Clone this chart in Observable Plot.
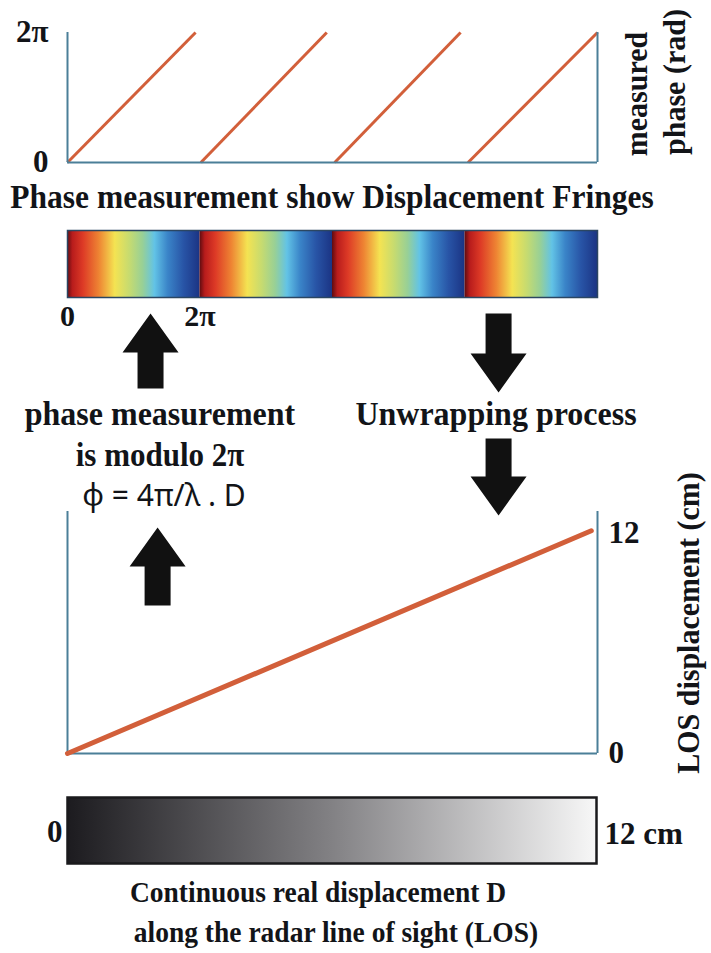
<!DOCTYPE html>
<html>
<head>
<meta charset="utf-8">
<script src="https://cdn.jsdelivr.net/npm/d3@7"></script>
<script src="https://cdn.jsdelivr.net/npm/@observablehq/plot@0.6"></script>
<style>
  html, body { margin: 0; padding: 0; background: #fff; }
  #root { position: relative; width: 711px; height: 953px; overflow: hidden; background: #fff; }
  .lbl { position: absolute; white-space: nowrap; line-height: 1; color: #121418;
         font-family: "Liberation Serif", "Times New Roman", serif; font-weight: bold; }
</style>
</head>
<body>
<svg width="0" height="0" style="position:absolute">
  <defs>
    <linearGradient id="jet" x1="0" x2="1" y1="0" y2="0">
      <stop offset="0" stop-color="#5e0c10"/>
      <stop offset="0.04" stop-color="#b81c1c"/>
      <stop offset="0.12" stop-color="#dd3a26"/>
      <stop offset="0.24" stop-color="#ee8433"/>
      <stop offset="0.36" stop-color="#f4e352"/>
      <stop offset="0.47" stop-color="#c6db70"/>
      <stop offset="0.57" stop-color="#98d096"/>
      <stop offset="0.66" stop-color="#62c3e6"/>
      <stop offset="0.76" stop-color="#3a84c8"/>
      <stop offset="0.88" stop-color="#2854a6"/>
      <stop offset="1" stop-color="#1b3484"/>
    </linearGradient>
    <linearGradient id="gray" x1="0" x2="1" y1="0" y2="0">
      <stop offset="0" stop-color="#1c1b1f"/>
      <stop offset="0.5" stop-color="#828184"/>
      <stop offset="1" stop-color="#f7f7f7"/>
    </linearGradient>
  </defs>
</svg>
<div id="root"></div>
<script>
// ---------------- data ----------------
// wrapped phase fringes (x in cm of LOS displacement)
const fringeStart = [0, 3.02, 6.05, 9.07];
const fringeEnd   = [2.9, 5.87, 8.9, 12];
const phaseRange  = [0, 2 * Math.PI];
const phaseTicks  = [0, 2 * Math.PI];
const phaseTickLabels = ["0", "2π"];
// colour-coded fringes (one colour cycle per 2π)
const cycleStart = [0, 3, 6, 9];
const cycleEnd   = [3, 6, 9, 12];
const cycleTicks = [0, 3];
const cycleTickLabels = ["0", "2π"];
// unwrapped LOS displacement
const losX = [0, 11.86];
const losY = [0, 12.15];
const losTicks = [0, 12];
const displacementRange = [0, 12];
const grayLabels = ["0", "12 cm"];

// ---------------- styles ----------------
const axisColor = "#4b7f98";
const lineColor = "#d25f3a";
const W = 711, ML = 67, MR = 114;
const root = document.getElementById("root");
const fontStyle = {fontFamily: "'Liberation Serif', serif", fontWeight: "bold", fontSize: "30px", color: "#121418", background: "transparent", overflow: "visible"};

function place(el, top) {
  el.style.position = "absolute";
  el.style.top = top + "px";
  el.style.left = "0px";
  root.appendChild(el);
}
function label(text, cx, cy, size, extra = {}) {
  const d = document.createElement("div");
  d.className = "lbl";
  d.textContent = text;
  d.style.left = cx + "px";
  d.style.top = cy + "px";
  d.style.fontSize = size + "px";
  d.style.transform = "translate(-50%,-50%)" + (extra.rotate ? " rotate(-90deg) scaleY(1.05)" : " scaleY(1.06)");
  if (extra.font) d.style.fontFamily = extra.font;
  if (extra.weight) d.style.fontWeight = extra.weight;
  root.appendChild(d);
}

// ---------------- top: wrapped phase ----------------
const fringes = fringeStart.map((s, i) => ({start: s, end: fringeEnd[i]}));
place(Plot.plot({
  width: W, height: 180, marginTop: 32, marginBottom: 18, marginLeft: ML, marginRight: MR,
  x: {domain: displacementRange, axis: null},
  y: {domain: phaseRange, axis: null},
  style: fontStyle,
  marks: [
    Plot.axisY(phaseTicks, {label: null, tickSize: 0, tickPadding: 19, fontSize: 31, tickFormat: d => phaseTickLabels[phaseTicks.indexOf(d)]}),
    Plot.link(fringes, {x1: "start", x2: "end", y1: phaseRange[0], y2: phaseRange[1], stroke: lineColor, strokeWidth: 3}),
    Plot.ruleX(displacementRange, {stroke: axisColor, strokeWidth: 2}),
    Plot.ruleY([0], {stroke: axisColor, strokeWidth: 2})
  ]
}), 0);

// ---------------- colour fringes ----------------
const cycles = cycleStart.map((s, i) => ({start: s, end: cycleEnd[i]}));
place(Plot.plot({
  width: W, height: 120, marginTop: 10, marginBottom: 43, marginLeft: ML, marginRight: MR,
  x: {domain: displacementRange, axis: null},
  y: {domain: [0, 1], axis: null},
  style: fontStyle,
  marks: [
    Plot.rect(cycles, {x1: "start", x2: "end", y1: 0, y2: 1, fill: "url(#jet)"}),
    Plot.frame({stroke: "#2b4662", strokeWidth: 1.5}),
    Plot.axisX(cycleTicks, {label: null, tickSize: 0, tickPadding: 7, fontSize: 30, tickFormat: d => cycleTickLabels[cycleTicks.indexOf(d)]})
  ]
}), 220);

// ---------------- bottom: unwrapped LOS displacement ----------------
const los = losX.map((x, i) => ({x, y: losY[i]}));
place(Plot.plot({
  width: W, height: 280, marginTop: 21, marginBottom: 17, marginLeft: ML, marginRight: MR,
  x: {domain: displacementRange, axis: null},
  y: {domain: [0, 13.2], axis: null},
  style: fontStyle,
  marks: [
    Plot.axisY(losTicks, {anchor: "right", label: null, tickSize: 0, tickPadding: 11, fontSize: 31}),
    Plot.ruleX(displacementRange, {stroke: axisColor, strokeWidth: 2}),
    Plot.ruleY([0], {stroke: axisColor, strokeWidth: 2}),
    Plot.line(los, {x: "x", y: "y", stroke: lineColor, strokeWidth: 5})
  ]
}), 490);

// ---------------- grey scale bar ----------------
place(Plot.plot({
  width: W, height: 80, marginTop: 7, marginBottom: 7, marginLeft: ML, marginRight: MR + 1,
  x: {domain: displacementRange, axis: null},
  y: {domain: [0, 1], axis: null},
  style: fontStyle,
  marks: [
    Plot.rect([displacementRange], {x1: d => d[0], x2: d => d[1], y1: 0, y2: 1, fill: "url(#gray)"}),
    Plot.frame({stroke: "#1a1a1c", strokeWidth: 2.5}),
    Plot.text([grayLabels[0]], {frameAnchor: "left", textAnchor: "end", dx: -5, dy: 2, fontSize: 31}),
    Plot.text([grayLabels[1]], {frameAnchor: "right", textAnchor: "start", dx: 8, dy: 4, fontSize: 31})
  ]
}), 790);

// ---------------- block arrows (annotations) ----------------
const fatArrow = {
  draw(context, l) {
    const sw = 13, hw = 28, hl = 39;
    context.moveTo(-sw, 0);
    context.lineTo(-sw, -(l - hl));
    context.lineTo(-hw, -(l - hl));
    context.lineTo(0, -l);
    context.lineTo(hw, -(l - hl));
    context.lineTo(sw, -(l - hl));
    context.lineTo(sw, 0);
    context.closePath();
  }
};
const arrowMark = (x, y, len, rot) =>
  Plot.vector([0], {x: () => x, y: () => y, length: len, rotate: rot, anchor: "start", shape: fatArrow, fill: "#111", stroke: "none"});
const overlay = Plot.plot({
  width: W, height: 953, marginTop: 0, marginBottom: 0, marginLeft: ML, marginRight: MR,
  x: {domain: displacementRange, axis: null},
  y: {domain: [953, 0], axis: null},
  style: {background: "transparent", overflow: "visible"},
  marks: [
    arrowMark(1.88, 388, 75, 0),
    arrowMark(9.76, 313, 79, 180),
    arrowMark(9.76, 438, 77, 180),
    arrowMark(2.04, 605, 78, 0)
  ]
});
overlay.style.pointerEvents = "none";
place(overlay, 0);

// ---------------- texts ----------------
label("measured", 636, 94, 30, {rotate: true});
label("phase (rad)", 674, 82, 30, {rotate: true});
label("Phase measurement show Displacement Fringes", 332, 197, 31.5);
label("phase measurement", 160, 413, 32);
label("Unwrapping process", 496, 413, 32);
label("is modulo 2π", 160, 455, 31);
label("ϕ = 4π/λ . D", 164, 494, 30, {font: "'Noto Sans', 'DejaVu Sans', sans-serif", weight: "normal"});
label("LOS displacement (cm)", 688, 623, 30, {rotate: true});
label("Continuous real displacement D", 318, 892, 27.5);
label("along the radar line of sight (LOS)", 336, 932, 27.5);
</script>
</body>
</html>
